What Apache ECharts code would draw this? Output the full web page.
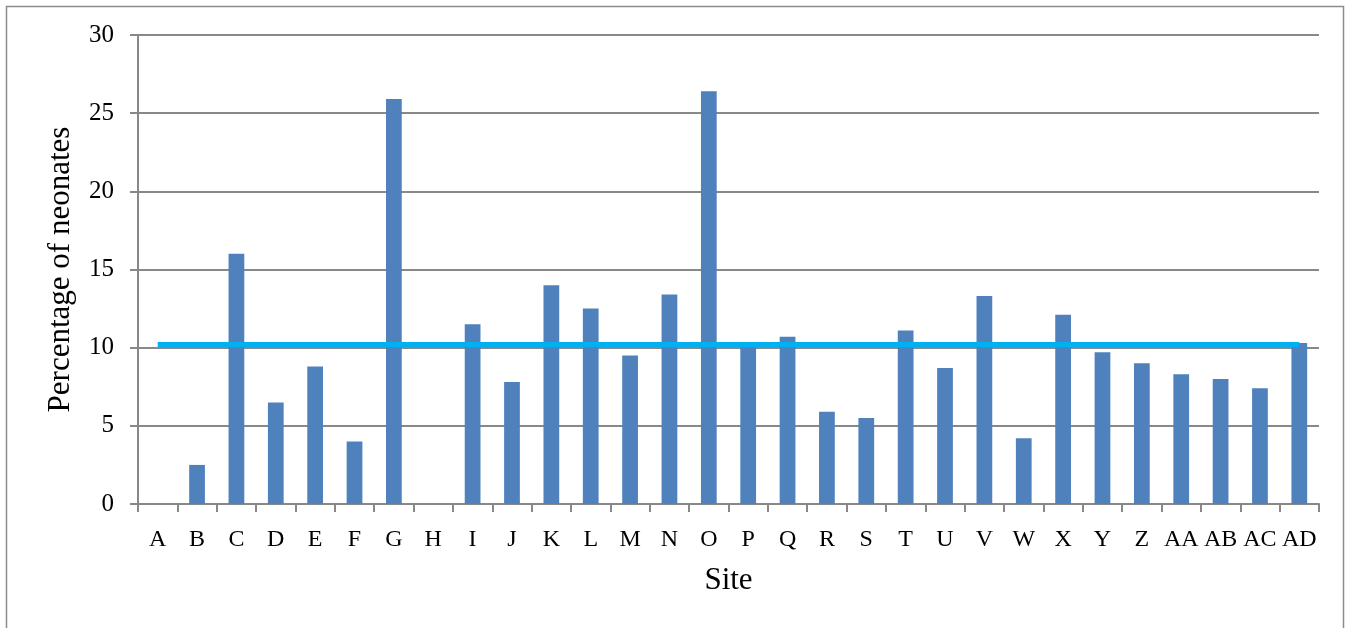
<!DOCTYPE html>
<html>
<head>
<meta charset="utf-8">
<script src="https://cdn.jsdelivr.net/npm/echarts@6/dist/echarts.min.js"></script>
<style>
  html, body { margin: 0; padding: 0; background: #fff; }
  #box { width: 1348px; height: 628px; }
</style>
</head>
<body>
<div id="box"></div>
<script>
// sites along the x axis
const sites = ['A', 'B', 'C', 'D', 'E', 'F', 'G', 'H', 'I', 'J', 'K', 'L', 'M', 'N', 'O',
  'P', 'Q', 'R', 'S', 'T', 'U', 'V', 'W', 'X', 'Y', 'Z', 'AA', 'AB', 'AC', 'AD'];
// percentage of neonates per site
const percent = [0, 2.5, 16.0, 6.5, 8.8, 4.0, 25.9, 0, 11.5, 7.8, 14.0, 12.5, 9.5, 13.4, 26.4,
  10.1, 10.7, 5.9, 5.5, 11.1, 8.7, 13.3, 4.2, 12.1, 9.7, 9.0, 8.3, 8.0, 7.4, 10.3];
// overall mean line
const meanValue = 10.2;
const yTicks = [0, 5, 10, 15, 20, 25, 30];

const font = '"Liberation Serif", "DejaVu Serif", serif';
const chart = echarts.init(document.getElementById('box'));

chart.setOption({
  animation: false,
  graphic: [{
    type: 'rect',
    shape: { x: 6.5, y: 6.5, width: 1337, height: 640 },
    style: { fill: 'none', stroke: '#8c8c8c', lineWidth: 1.5 }
  }],
  grid: { left: 138, right: 29, top: 35, bottom: 124 },
  xAxis: {
    type: 'category',
    data: sites,
    name: 'Site',
    nameLocation: 'middle',
    nameGap: 61,
    nameTextStyle: { fontFamily: font, fontSize: 31, color: '#000' },
    axisLine: { lineStyle: { color: '#888', width: 2 } },
    axisTick: { show: true, length: 8, lineStyle: { color: '#888', width: 2 } },
    axisLabel: { fontFamily: font, fontSize: 24, color: '#000', margin: 24, interval: 0 }
  },
  yAxis: {
    type: 'value',
    min: yTicks[0],
    max: yTicks[yTicks.length - 1],
    interval: 5,
    name: 'Percentage of neonates',
    nameLocation: 'middle',
    nameGap: 62,
    nameTextStyle: { fontFamily: font, fontSize: 31, color: '#000' },
    axisLine: { show: true, lineStyle: { color: '#888', width: 2 } },
    axisTick: { show: true, length: 8, lineStyle: { color: '#888', width: 2 } },
    axisLabel: { fontFamily: font, fontSize: 25, color: '#000', margin: 24 },
    splitLine: { lineStyle: { color: '#888', width: 2 } }
  },
  series: [{
    type: 'bar',
    data: percent,
    barWidth: '40%',
    itemStyle: { color: '#4f81bd' },
    markLine: {
      symbol: 'none',
      silent: true,
      label: { show: false },
      lineStyle: { color: '#00b0f0', width: 5, type: 'solid' },
      data: [[
        { coord: [sites[0], meanValue] },
        { coord: [sites[sites.length - 1], meanValue] }
      ]]
    }
  }]
});
</script>
</body>
</html>
